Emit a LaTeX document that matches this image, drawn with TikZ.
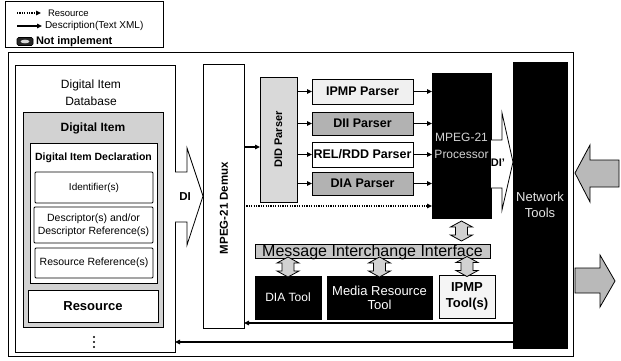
\documentclass[tikz,border=0pt]{standalone}
\usepackage{fontspec}
\setmainfont{Liberation Sans}
\usetikzlibrary{arrows.meta,calc}
\newcommand\fsz[2]{\fontsize{#1}{#2}\selectfont}
\begin{document}
\begin{tikzpicture}[x=1pt,y=-1pt,line join=miter,
  every node/.style={inner sep=0pt,outer sep=0pt},
  frm/.style={draw,line width=0.9pt},
  bx/.style={draw,line width=0.8pt,fill=white},
  dark/.style={draw,line width=0.8pt,fill=black,text=white},
  parser/.style={draw,line width=0.8pt,minimum width=101pt,font=\bfseries\fsz{12.5}{14}},
  desc/.style={-{Triangle[length=5pt,width=4.5pt]},line width=1.1pt},
  resline/.style={-{Triangle[length=5pt,width=4.5pt]},line width=1.1pt,dash pattern=on 1.2pt off 1.2pt},
  blockarrow/.style={draw,line width=0.8pt},
  vdbl/.pic={\filldraw[fill=gray!35,line width=0.8pt]
     (0,-10)--(11,-4)--(6,-4)--(6,4)--(11,4)--(0,10)--(-11,4)--(-6,4)--(-6,-4)--(-11,-4)--cycle;}
]
\useasboundingbox (0,0) rectangle (621,360);

% ---------- legend ----------
\node[draw,line width=0.7pt,minimum width=158pt,minimum height=46pt] (legend) at (84,24) {};
\coordinate (lra) at (17,13); \coordinate (lrb) at (41,13);
\draw[resline] (lra) -- (lrb);
\node[anchor=west,font=\fsz{9.5}{11}] (lrt) at (48,13) {Resource};
\coordinate (lda) at (17,26); \coordinate (ldb) at (42,26);
\draw[desc] (lda) -- (ldb);
\node[anchor=west,font=\fsz{10}{12}] (ldt) at (45,26) {Description(Text XML)};
\node[draw,fill=black!85,rounded corners=1.5pt,minimum width=16pt,minimum height=8pt,line width=0.6pt] (lni) at (25,41.5) {};
\fill[gray!30] (lni.center) ellipse (4.5pt and 1.8pt);
\node[anchor=west,font=\bfseries\fsz{11}{13}] (lnt) at (36,42) {Not implement};

% ---------- outer frame ----------
\node[frm,minimum width=565pt,minimum height=304pt] (frame) at (290.5,204) {};

% ---------- digital item database ----------
\node[bx,line width=0.9pt,minimum width=160pt,minimum height=287pt] (db) at (95,208.5) {};
\node[align=center,font=\fsz{12}{17}] (dbt) at (91,93) {Digital Item\\Database};
\node[draw,line width=0.9pt,fill=gray!35,minimum width=140pt,minimum height=215pt] (di) at (93,219.5) {};
\node[font=\bfseries\fsz{12}{14}] (dit) at (93,128) {Digital Item};
\node[bx,minimum width=127pt,minimum height=140pt] (did) at (93.5,213) {};
\node[font=\bfseries\fsz{10.5}{12}] (didt) at (93.5,158) {Digital Item Declaration};
\node[bx,rounded corners=1pt,minimum width=118pt,minimum height=31pt,font=\fsz{10}{12}] (ident) at (94,187.5) {Identifier(s)};
\node[bx,rounded corners=1pt,minimum width=119pt,minimum height=36pt,align=center,font=\fsz{10.5}{13}] (descr) at (93.5,225) {Descriptor(s) and/or\\Descriptor Reference(s)};
\node[bx,rounded corners=1pt,minimum width=118pt,minimum height=30pt,font=\fsz{10.5}{12}] (resref) at (94,263) {Resource Reference(s)};
\node[bx,minimum width=130pt,minimum height=32pt,font=\bfseries\fsz{13}{15}] (res) at (93,306) {Resource};
\foreach \yy in {337,342,347} \fill (94,\yy) circle (1.1pt);

% ---------- demux and parsers ----------
\node[bx,minimum width=41pt,minimum height=264pt] (demux) at (223.5,196) {};
\node[rotate=90,font=\bfseries\fsz{11.5}{13}] (demuxt) at (224,208) {MPEG-21 Demux};
\node[draw,line width=0.8pt,fill=gray!30,minimum width=37pt,minimum height=125pt] (didp) at (278.5,139.5) {};
\node[rotate=90,font=\bfseries\fsz{11}{13}] (didpt) at (didp.center) {DID Parser};

\node[parser,fill=gray!12,minimum height=25pt] (ipmpp) at (362.5,91.5) {IPMP Parser};
\node[parser,fill=gray!60,minimum height=23pt] (diip) at (362.5,123.5) {DII Parser};
\node[parser,fill=white,minimum height=25pt] (relp) at (362.5,154.5) {REL/RDD Parser};
\node[parser,fill=gray!60,minimum height=23pt] (diap) at (362.5,183.5) {DIA Parser};

\node[dark,text=gray!35,minimum width=59pt,minimum height=145pt,align=center,font=\fsz{12}{17}] (proc) at (461.5,145.5) {MPEG-21\\Processor};
\node[dark,text=gray!20,minimum width=54pt,minimum height=286pt,align=center,font=\fsz{13}{16}] (net) at (540,205) {Network\\Tools};

% ---------- message interchange and tools ----------
\node[draw,line width=0.8pt,fill=gray!45,minimum width=235pt,minimum height=14pt] (mii) at (372.5,251) {};
\node[anchor=base,font=\fsz{16}{18}] (miit) at (372.5,256) {Message Interchange Interface};
\node[dark,minimum width=66pt,minimum height=43pt,font=\fsz{12}{14}] (diat) at (288,297.5) {DIA Tool};
\node[dark,minimum width=105pt,minimum height=43pt,align=center,font=\fsz{13}{14}] (mrt) at (379.5,297.5) {Media Resource\\Tool};
\node[draw,line width=0.8pt,fill=gray!8,minimum width=56pt,minimum height=43pt,align=center,font=\bfseries\fsz{13}{16}] (ipmpt) at (467,296.5) {IPMP\\Tool(s)};

% ---------- connectors ----------
\coordinate (dd) at ([yshift=49pt]demux.east);
\draw[desc] (dd) -- (dd -| didp.west);
\foreach \p in {ipmpp,diip,relp,diap}{
  \draw[desc] (didp.east |- \p.west) -- (\p.west);
  \draw[desc] (\p.east) -- (\p.east -| proc.west);
}
\coordinate (rs) at ([yshift=-10pt]demux.east);
\draw[resline] (rs) -- (rs -| proc.west);
\coordinate (nb1) at ([yshift=-118pt]net.west);
\draw[desc] (nb1) -- (nb1 -| demux.east);
\coordinate (nb2) at ([yshift=-137pt]net.west);
\draw[desc] (nb2) -- (nb2 -| db.east);

\pic at ($(proc.south)!0.5!(proc.south |- mii.north)$) {vdbl};
\pic at ($(diat.north)!0.5!(diat.north |- mii.south)$) {vdbl};
\pic at ($(mrt.north)!0.5!(mrt.north |- mii.south)$) {vdbl};
\pic at ($(ipmpt.north)!0.5!(ipmpt.north |- mii.south)$) {vdbl};

% ---------- block arrows ----------
\filldraw[blockarrow,fill=white] (175,172) -- (187,172) -- (187,148) -- (203,196) -- (187,245) -- (187,222) -- (175,222);
\node[font=\bfseries\fsz{11.5}{13}] (dil) at (185,197) {DI};
\filldraw[blockarrow,fill=white] (491,140) -- (502,140) -- (502,113) -- (513,162) -- (502,210) -- (502,188) -- (491,188);
\node[font=\bfseries\fsz{11}{13}] (dipl) at (498,163) {DI'};
\filldraw[blockarrow,fill=gray!55] (575,173) -- (590,145) -- (590,160) -- (619,160) -- (619,187) -- (590,187) -- (590,202) -- cycle;
\filldraw[blockarrow,fill=gray!55] (575,268) -- (600,268) -- (600,255) -- (615,281) -- (600,307) -- (600,293) -- (575,293) -- cycle;
\end{tikzpicture}
\end{document}
